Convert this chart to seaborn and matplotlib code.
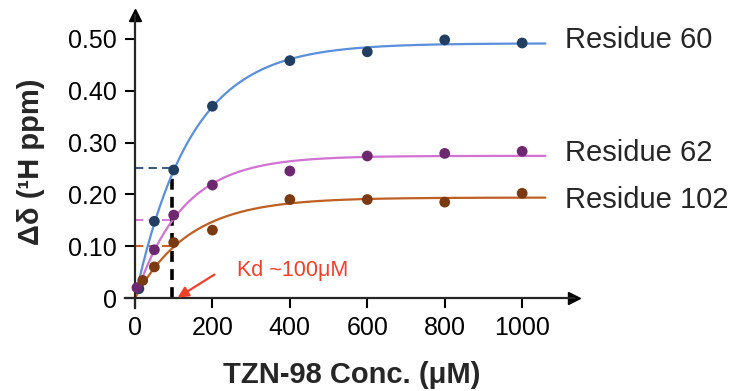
import numpy as np
import pandas as pd
import matplotlib
matplotlib.use("Agg")
import matplotlib.pyplot as plt
import seaborn as sns

# values
conc_60 = [10, 50, 100, 200, 400, 600, 800, 1000]
shift_60 = [0.018, 0.148, 0.247, 0.370, 0.458, 0.475, 0.498, 0.492]
conc_62 = [5, 50, 100, 200, 400, 600, 800, 1000]
shift_62 = [0.020, 0.093, 0.160, 0.218, 0.245, 0.274, 0.279, 0.283]
conc_102 = [20, 50, 100, 200, 400, 600, 800, 1000]
shift_102 = [0.034, 0.060, 0.107, 0.131, 0.190, 0.190, 0.185, 0.202]
residues = ["Residue 60", "Residue 62", "Residue 102"]
half_levels = [0.25, 0.15, 0.10]
label_y = [0.497, 0.279, 0.189]
kd = 95
xticks = [0, 200, 400, 600, 800, 1000]
yticks = [0, 0.1, 0.2, 0.3, 0.4, 0.5]
ytick_labels = ["0", "0.10", "0.20", "0.30", "0.40", "0.50"]

line_cols = ["#5a8fdc", "#d272d2", "#bf5f22"]
dot_cols = ["#223f62", "#6e2870", "#7b3a12"]
dash_cols = ["#3b5f80", "#d67fd6", "#c8642a"]
red = "#f2412b"


def fit_curve(x, y):
    # one-site saturation fit, grid over the rate, least squares for the plateau
    x = np.asarray(x, float)
    y = np.asarray(y, float)
    best = None
    for k in np.linspace(30, 400, 741):
        f = 1 - np.exp(-x / k)
        b = (f @ y) / (f @ f)
        err = ((b * f - y) ** 2).sum()
        if best is None or err < best[0]:
            best = (err, b, k)
    return best[1], best[2]


points = pd.concat([
    pd.DataFrame({"conc": c, "shift": s, "residue": r})
    for c, s, r in zip([conc_60, conc_62, conc_102], [shift_60, shift_62, shift_102], residues)
])

xs = np.linspace(0, 1060, 300)
curves = []
for r in residues:
    sub = points[points.residue == r]
    b, k = fit_curve(sub["conc"], sub["shift"])
    curves.append(pd.DataFrame({"conc": xs, "shift": b * (1 - np.exp(-xs / k)), "residue": r}))
curves = pd.concat(curves)

sns.set_style("ticks")
plt.rcParams["font.family"] = ["Liberation Sans", "DejaVu Sans"]

fig = plt.figure(figsize=(7.35, 3.91), dpi=100)
ax = fig.add_axes([0.1705, 0.2113, 0.6105, 0.7503])

sns.lineplot(data=curves, x="conc", y="shift", hue="residue", palette=line_cols,
             legend=False, lw=1.6, ax=ax, zorder=2)
sns.scatterplot(data=points, x="conc", y="shift", hue="residue", palette=dot_cols,
                legend=False, s=60, edgecolor="none", ax=ax, zorder=3)

# half-saturation guides
for lvl, c in zip(half_levels, dash_cols):
    ax.plot([0, kd], [lvl, lvl], ls=(0, (4, 2.5)), color=c, lw=1.5, zorder=1)
ax.plot([kd, kd], [0, half_levels[0]], ls=(0, (3, 2)), color="black", lw=2.6, zorder=1)

for r, yv in zip(residues, label_y):
    ax.text(1111, yv, r, fontsize=21, va="center", ha="left")

ax.text(263, 0.053, "Kd ~100μM", color=red, fontsize=15.5, va="center", ha="left")
ax.annotate("", xy=(104, -0.002), xytext=(211, 0.048),
            arrowprops=dict(arrowstyle="-|>", color=red, lw=1.6, mutation_scale=16))

ax.set_xlim(-25, 1134)
ax.set_ylim(-0.02, 0.546)
ax.spines["left"].set_position(("data", 0))
ax.spines["bottom"].set_position(("data", 0))
ax.spines["right"].set_visible(False)
ax.spines["top"].set_visible(False)
for s in ["left", "bottom"]:
    ax.spines[s].set_linewidth(1.6)
ax.plot(1, 0, ">k", ms=8, transform=ax.get_yaxis_transform(), clip_on=False)
ax.plot(0, 1, "^k", ms=8, transform=ax.get_xaxis_transform(), clip_on=False)

ax.set_xticks(xticks)
ax.set_yticks(yticks)
ax.set_yticklabels(ytick_labels)
ax.tick_params(axis="both", labelsize=18, direction="out", width=1.5, length=7, pad=6,
               color="black", labelcolor="black")

ax.set_xlabel("TZN-98 Conc. (μM)", fontsize=21, fontweight="bold", va="center")
ax.xaxis.set_label_coords(0.505, -0.228)
ax.set_ylabel("Δδ (¹H ppm)", fontsize=21, fontweight="bold", va="center")
ax.yaxis.set_label_coords(-0.21, 0.5)

fig.savefig("out.png", dpi=100)
